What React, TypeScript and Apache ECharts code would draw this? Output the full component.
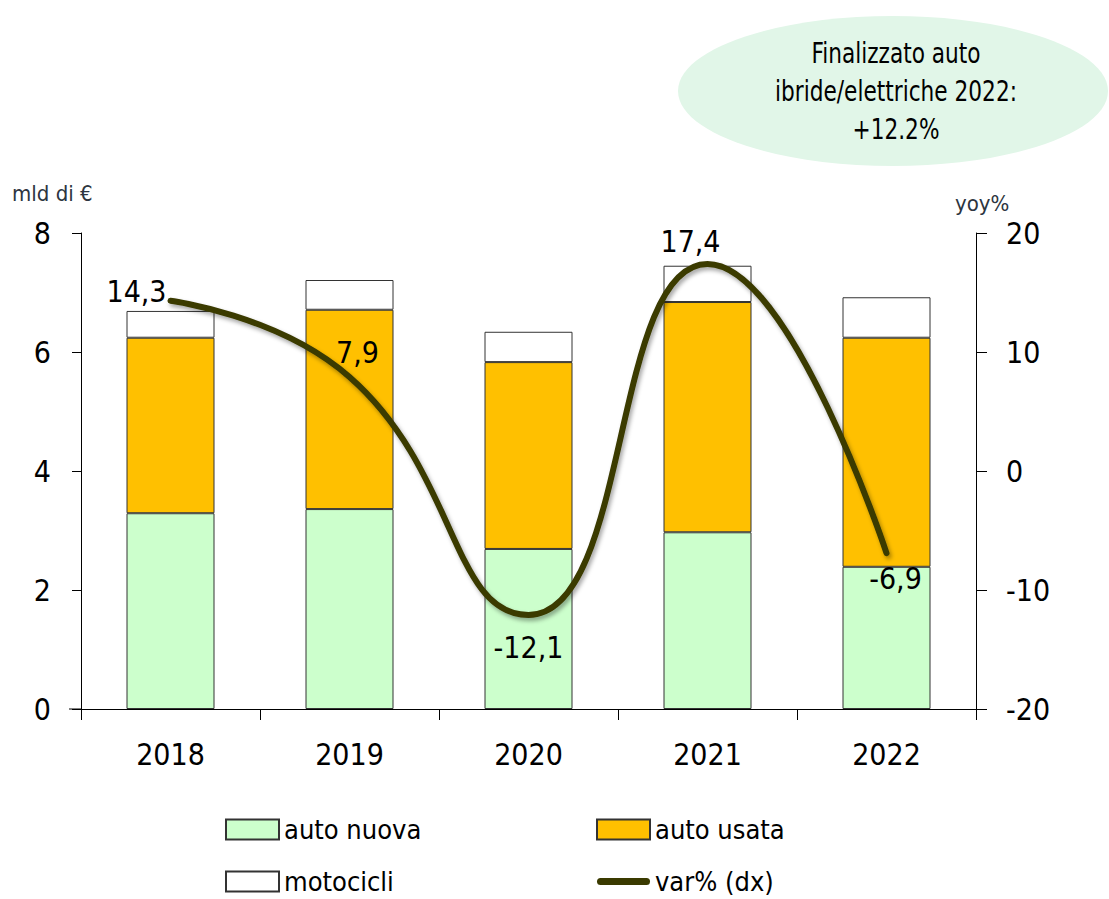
import React, { useEffect, useRef } from "react";
import * as echarts from "echarts";

const years = ["2018", "2019", "2020", "2021", "2022"];
const autoNuova = [3.29, 3.36, 2.69, 2.97, 2.39];
const autoUsata = [2.95, 3.35, 3.14, 3.87, 3.85];
const motocicli = [0.45, 0.5, 0.51, 0.61, 0.68];
const varPct = [14.3, 7.9, -12.1, 17.4, -6.9];
const labelOffsets: [number, number][] = [
  [-34, -9],
  [8, -24],
  [0, 33],
  [-17, -22],
  [9, 25],
];
const noteLines = ["Finalizzato auto", "ibride/elettriche 2022:", "+12.2%"];

const FONT = '"DejaVu Sans Condensed", "DejaVu Sans", sans-serif';
const LINE_COLOR = "#3a3a00";
const CAPSULE = "path://M3.5,0 L49.5,0 A3.5,3.5 0 0 1 49.5,7 L3.5,7 A3.5,3.5 0 0 1 3.5,0 Z";

export default function App() {
  const ref = useRef<HTMLDivElement>(null);
  useEffect(() => {
    if (!ref.current) return;
    const chart = echarts.init(ref.current, null, { renderer: "svg" });
    const border = { borderColor: "#333", borderWidth: 1 };
    const legendCommon = {
      orient: "vertical",
      top: 816,
      height: 100,
      padding: 0,
      icon: "rect",
      itemWidth: 53,
      itemHeight: 20,
      itemGap: 25,
      textStyle: { fontSize: 27, color: "#000", fontFamily: FONT },
    };
    chart.setOption({
      animation: false,
      textStyle: { fontFamily: FONT },
      grid: { left: 81, right: 133, top: 233, bottom: 190 },
      legend: [
        { ...legendCommon, left: 225, data: ["auto nuova", "motocicli"] },
        {
          ...legendCommon,
          left: 596,
          data: [
            "auto usata",
            { name: "var% (dx)", icon: CAPSULE, itemStyle: { color: LINE_COLOR, borderWidth: 0 } },
          ],
        },
      ],
      xAxis: {
        type: "category",
        data: years,
        axisLine: { lineStyle: { color: "#000", width: 1 } },
        axisTick: { show: true, length: 11, lineStyle: { color: "#000" } },
        axisLabel: { fontSize: 30, color: "#000", margin: 30, fontFamily: FONT },
      },
      yAxis: [
        {
          type: "value",
          min: 0,
          max: 8,
          interval: 2,
          splitLine: { show: false },
          axisLine: { show: true, lineStyle: { color: "#000", width: 1 } },
          axisTick: { show: true, length: 9, lineStyle: { color: "#000" } },
          axisLabel: { fontSize: 30, color: "#000", margin: 30, fontFamily: FONT },
        },
        {
          type: "value",
          min: -20,
          max: 20,
          interval: 10,
          position: "right",
          splitLine: { show: false },
          axisLine: { show: true, lineStyle: { color: "#000", width: 1 } },
          axisTick: { show: true, length: 11, lineStyle: { color: "#000" } },
          axisLabel: { fontSize: 30, color: "#000", margin: 30, fontFamily: FONT },
        },
      ],
      series: [
        {
          name: "auto nuova",
          type: "bar",
          stack: "tot",
          barWidth: 88,
          data: autoNuova,
          itemStyle: { color: "#ccffcc", ...border },
        },
        {
          name: "auto usata",
          type: "bar",
          stack: "tot",
          barWidth: 88,
          data: autoUsata,
          itemStyle: { color: "#ffc000", ...border },
        },
        {
          name: "motocicli",
          type: "bar",
          stack: "tot",
          barWidth: 88,
          data: motocicli,
          itemStyle: { color: "#ffffff", ...border },
        },
        {
          name: "var% (dx)",
          type: "line",
          yAxisIndex: 1,
          smooth: 0.5,
          symbol: "circle",
          symbolSize: 1,
          showSymbol: true,
          data: varPct.map((v, i) => ({
            value: v,
            label: {
              show: true,
              position: "inside",
              offset: labelOffsets[i],
              formatter: () => v.toFixed(1).replace(".", ","),
              fontSize: 30,
              color: "#000",
              fontFamily: FONT,
            },
          })),
          itemStyle: { color: LINE_COLOR },
          lineStyle: {
            color: LINE_COLOR,
            width: 6,
            cap: "round",
            shadowColor: "rgba(0,0,0,0.35)",
            shadowBlur: 4,
            shadowOffsetX: 2,
            shadowOffsetY: 3,
          },
          z: 5,
        },
      ],
      graphic: [
        {
          type: "line",
          shape: { x1: 69, y1: 709, x2: 81, y2: 709 },
          style: { stroke: "#000", lineWidth: 1 },
        },
        {
          type: "text",
          left: 12,
          top: 182,
          style: { text: "mld di €", fontSize: 22, fill: "#2d3540", fontFamily: FONT },
        },
        {
          type: "text",
          left: 955,
          top: 192,
          style: { text: "yoy%", fontSize: 22, fill: "#2d3540", fontFamily: FONT },
        },
        {
          type: "ellipse",
          shape: { cx: 893, cy: 91, rx: 215, ry: 75 },
          style: { fill: "#e1f6e8" },
        },
        {
          type: "text",
          x: 896,
          y: 91,
          scaleX: 0.86,
          style: {
            text: noteLines.join("\n"),
            fontSize: 28,
            lineHeight: 38,
            fill: "#000",
            align: "center",
            verticalAlign: "middle",
            fontFamily: FONT,
          },
        },
      ],
    });
    return () => chart.dispose();
  }, []);
  return (
    <div
      ref={ref}
      style={{ position: "fixed", left: 0, top: 0, width: 1109, height: 899, background: "#fff" }}
    />
  );
}
